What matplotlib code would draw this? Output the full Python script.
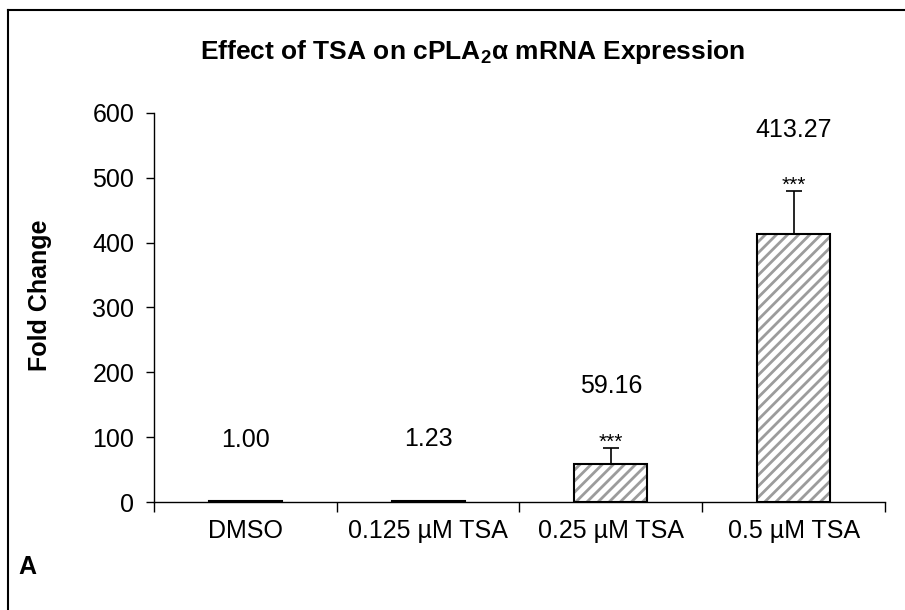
import matplotlib
matplotlib.use('Agg')
import matplotlib.pyplot as plt
from matplotlib.lines import Line2D
import numpy as np

plt.rcParams['font.family'] = ['Liberation Sans', 'DejaVu Sans']
plt.rcParams['mathtext.fontset'] = 'custom'
plt.rcParams['mathtext.rm'] = 'Liberation Sans'
plt.rcParams['mathtext.bf'] = 'Liberation Sans:bold'
plt.rcParams['hatch.linewidth'] = 2.0

# данные
groups = ['DMSO', '0.125 µM TSA', '0.25 µM TSA', '0.5 µM TSA']
fold = [1.00, 1.23, 59.16, 413.27]
err = [0.2, 0.3, 24, 66]
value_labels = ['1.00', '1.23', '59.16', '413.27']
stars = ['', '', '***', '***']
hatched = [False, False, True, True]
yticks = [0, 100, 200, 300, 400, 500, 600]

fig = plt.figure(figsize=(9.05, 6.1), dpi=100)
ax = fig.add_axes([0.170, 0.177, 0.808, 0.638])

x = np.arange(len(groups))
w = 0.4
for i in range(len(groups)):
    if hatched[i]:
        ax.bar(x[i], fold[i], w, color='white', edgecolor='#9c9c9c', hatch='///', linewidth=0)
    ax.bar(x[i], fold[i], w, color='none', edgecolor='black', linewidth=1.5, zorder=3)
ax.errorbar(x, fold, yerr=[np.zeros(len(err)), err], fmt='none', ecolor='black',
            elinewidth=1.2, capsize=5.5, capthick=1.2, zorder=4)

for i in range(len(groups)):
    top = fold[i] + err[i]
    ax.text(x[i], top + 95, value_labels[i], ha='center', va='center', fontsize=18)
    if stars[i]:
        ax.text(x[i], top - 6, stars[i], ha='center', va='bottom', fontsize=15)

ax.set_xlim(-0.5, 3.5)
ax.set_ylim(0, 600)
ax.set_yticks(yticks)
ax.tick_params(axis='y', direction='out', length=6, width=1, labelsize=18, pad=8)
ax.set_xticks(x)
ax.set_xticklabels(groups)
ax.set_xticks(np.arange(-0.5, 4, 1), minor=True)
ax.tick_params(axis='x', which='major', length=0, labelsize=18, pad=12)
ax.tick_params(axis='x', which='minor', direction='out', length=7, width=1)
for s in ['top', 'right']:
    ax.spines[s].set_visible(False)
ax.spines['left'].set_linewidth(1)
ax.spines['bottom'].set_linewidth(1)

fig.text(40 / 905, 1 - 295 / 610, 'Fold Change', rotation=90, fontsize=18,
         fontweight='bold', ha='center', va='center')
fig.text(0.522, 1 - 52 / 610, r'Effect of TSA on cPLA$_\mathbf{2}$α mRNA Expression',
         ha='center', va='center', fontsize=19, fontweight='bold')
fig.text(18 / 905, 1 - 567 / 610, 'A', fontsize=18, fontweight='bold', va='center')

# рамка сверху и слева
fig.add_artist(Line2D([8 / 905, 1], [1 - 10 / 610, 1 - 10 / 610], color='black', linewidth=1.5))
fig.add_artist(Line2D([8 / 905, 8 / 905], [0, 1 - 10 / 610], color='black', linewidth=1.5))

fig.savefig('out.png', dpi=100)
